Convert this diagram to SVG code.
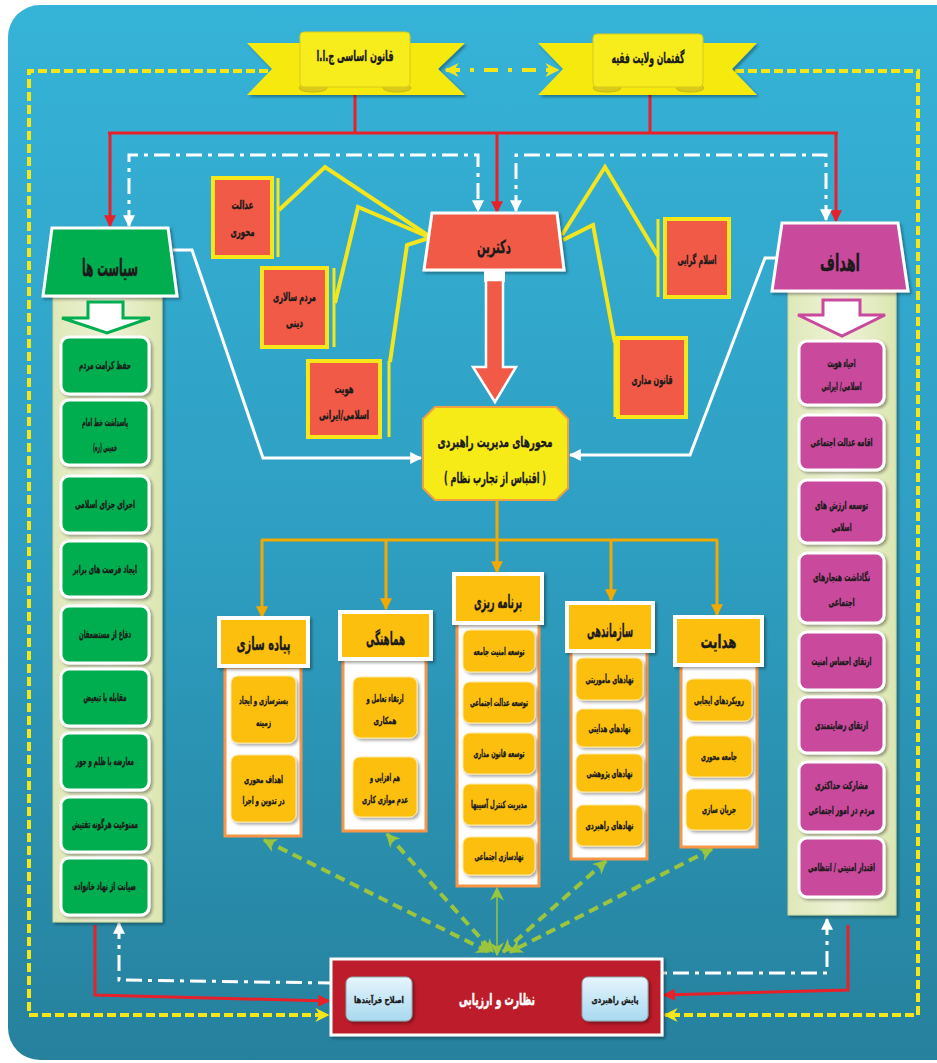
<svg xmlns="http://www.w3.org/2000/svg" width="937" height="1063" viewBox="0 0 937 1063">
<defs>
<linearGradient id="bg" x1="0" y1="0" x2="0" y2="1">
<stop offset="0" stop-color="#36b3d8"/><stop offset="0.5" stop-color="#2e9fc2"/><stop offset="1" stop-color="#26819d"/>
</linearGradient>
<linearGradient id="col" x1="0" y1="0" x2="1" y2="0">
<stop offset="0" stop-color="#dfe8b8"/><stop offset="0.5" stop-color="#eef3d8"/><stop offset="1" stop-color="#dce6b0"/>
</linearGradient>
<linearGradient id="lb" x1="0" y1="0" x2="0" y2="1">
<stop offset="0" stop-color="#e6f5fc"/><stop offset="1" stop-color="#a8d9f0"/>
</linearGradient>
<filter id="sh" x="-20%" y="-20%" width="140%" height="140%"><feDropShadow dx="2" dy="2" stdDeviation="1.5" flood-color="#000" flood-opacity="0.35"/></filter>
<marker id="mr" viewBox="0 0 10 10" refX="9" refY="5" markerWidth="12" markerHeight="12" markerUnits="userSpaceOnUse" orient="auto-start-reverse"><path d="M0,0 L10,5 L0,10 z" fill="#e8202a"/></marker>
<marker id="mw" viewBox="0 0 10 10" refX="9" refY="5" markerWidth="12" markerHeight="12" markerUnits="userSpaceOnUse" orient="auto-start-reverse"><path d="M0,0 L10,5 L0,10 z" fill="#ffffff"/></marker>
<marker id="my" viewBox="0 0 10 10" refX="9" refY="5" markerWidth="14" markerHeight="14" markerUnits="userSpaceOnUse" orient="auto-start-reverse"><path d="M0,0 L10,5 L0,10 L3,5 z" fill="#f5e61a"/></marker>
<marker id="mo" viewBox="0 0 10 10" refX="9" refY="5" markerWidth="12" markerHeight="12" markerUnits="userSpaceOnUse" orient="auto-start-reverse"><path d="M0,0 L10,5 L0,10 z" fill="#f2a900"/></marker>
<marker id="mg" viewBox="0 0 10 10" refX="9" refY="5" markerWidth="14" markerHeight="14" markerUnits="userSpaceOnUse" orient="auto-start-reverse"><path d="M0,0 L10,5 L0,10 L3,5 z" fill="#9bc53d"/></marker>
<style>
.t{font-family:"DejaVu Sans","Noto Sans",sans-serif;font-weight:bold;direction:rtl;text-anchor:middle;fill:#1a1a1a;stroke:#1a1a1a;stroke-width:0.35}
.s11{font-size:11px}.s10{font-size:10px}.s9{font-size:9px}.s12{font-size:12px}.s18{font-size:18px}
.red{stroke:#e8202a;stroke-width:3;fill:none}
.wdd{stroke:#fff;stroke-width:3;fill:none;stroke-dasharray:16 6 4 6}
.wl{stroke:#fff;stroke-width:3;fill:none}
.ydash{stroke:#f5e61a;stroke-width:4;fill:none;stroke-dasharray:9 4}
.ydd{stroke:#f5e61a;stroke-width:4;fill:none;stroke-dasharray:14 10 4 10}
.yl{stroke:#f4e51c;stroke-width:4;fill:none}
.or{stroke:#f2a900;stroke-width:3;fill:none}
.gd{stroke:#9bc53d;stroke-width:4;fill:none;stroke-dasharray:10 6}
.gi{fill:#00ad4f;stroke:#fff;stroke-width:3;filter:url(#sh)}
.pi{fill:#c94a9c;stroke:#fff;stroke-width:3;filter:url(#sh)}
.co{fill:#f15a47;stroke:#f6e61a;stroke-width:4}
.bar{stroke:#f6e61a;stroke-width:3}
.hd{fill:#fcbf10;stroke:#fff;stroke-width:4;filter:url(#sh)}
.bd{fill:#fff;stroke:#f7964a;stroke-width:3}
.it{fill:#fcbf10;stroke:#fde9a0;stroke-width:1;filter:url(#sh)}
.ban{fill:#f5e90f;filter:url(#sh)}
.curl{fill:#d8cb1a;stroke:#c8b810;stroke-width:1}
</style>
</defs>

<g id="background">
<rect x="0" y="0" width="937" height="1063" fill="#fff"/>
<rect x="8" y="5" width="960" height="1055" rx="32" fill="url(#bg)"/>
</g>

<g id="connectors">
<path class="ydash" d="M268,71 H29 V1015 H328" marker-end="url(#my)"/>
<path class="ydash" d="M735,71 H918 V1015 H665" marker-end="url(#my)"/>
<path class="ydd" d="M446,70 H558" marker-start="url(#my)" marker-end="url(#my)"/>
<path class="red" d="M355,88 V133 M650,88 V133 M108,133 H838"/>
<path class="red" d="M110,133 V226" marker-end="url(#mr)"/>
<path class="red" d="M836,133 V221" marker-end="url(#mr)"/>
<path class="red" d="M497,133 V212" marker-end="url(#mr)"/>
<path class="red" d="M95,925 V995 L329,1001" marker-end="url(#mr)"/>
<path class="red" d="M848,925 V990 L664,995" marker-end="url(#mr)"/>
<path class="wdd" d="M129,226 V155 H478 V211" marker-start="url(#mw)" marker-end="url(#mw)"/>
<path class="wdd" d="M516,211 V155 H826 V220" marker-start="url(#mw)" marker-end="url(#mw)"/>
<path class="wdd" d="M119,923 V980 L331,983" marker-start="url(#mw)"/>
<path class="wdd" d="M827,919 V973 H663" marker-start="url(#mw)"/>
<path class="wl" d="M173,250 H192 L263,458 H421" marker-end="url(#mw)"/>
<path class="wl" d="M777,258 H765 L690,455 H570" marker-end="url(#mw)"/>
<path class="yl" d="M279,210 L325,167 L429,236"/>
<path class="yl" d="M335,303 L358,207 L429,237"/>
<path class="yl" d="M390,362 L407,245 L429,238"/>
<path class="yl" d="M562,235 L605,167 L658,256"/>
<path class="yl" d="M563,240 L593,225 L615,343"/>
<path class="or" d="M497,500 V540 M261,540 H718"/>
<path class="or" d="M262,540 V617" marker-end="url(#mo)"/>
<path class="or" d="M386,540 V609" marker-end="url(#mo)"/>
<path class="or" d="M497,540 V572" marker-end="url(#mo)"/>
<path class="or" d="M611,540 V600" marker-end="url(#mo)"/>
<path class="or" d="M717,540 V615" marker-end="url(#mo)"/>
<path class="gd" d="M264,840 L489,952" marker-start="url(#mg)" marker-end="url(#mg)"/>
<path class="gd" d="M387,834 L493,952" marker-start="url(#mg)" marker-end="url(#mg)"/>
<path class="gd" d="M606,861 L503,952" marker-start="url(#mg)" marker-end="url(#mg)"/>
<path class="gd" d="M712,849 L510,952" marker-start="url(#mg)" marker-end="url(#mg)"/>
<path d="M497,888 V955" stroke="#9bc53d" stroke-width="1.5" fill="none" marker-start="url(#mg)" marker-end="url(#mg)"/>
</g>

<g id="banner-qanun">
<polygon class="ban" points="247,43 465,43 438,69 465,95 247,95 272,69"/>
<ellipse class="curl" cx="313" cy="88" rx="14" ry="4"/>
<ellipse class="curl" cx="397" cy="88" rx="14" ry="4"/>
<rect x="300" y="32" width="110" height="55" rx="4" fill="#f7ec1c" stroke="#d8cb1a" stroke-width="1"/>
<text class="t" x="355" y="61" font-size="15" textLength="77" lengthAdjust="spacingAndGlyphs">قانون اساسی ج.ا.ا</text>
</g>
<g id="banner-velayat">
<polygon class="ban" points="538,43 757,43 732,69 757,95 538,95 563,69"/>
<ellipse class="curl" cx="607" cy="88" rx="14" ry="4"/>
<ellipse class="curl" cx="690" cy="88" rx="14" ry="4"/>
<rect x="593" y="34" width="110" height="53" rx="4" fill="#f7ec1c" stroke="#d8cb1a" stroke-width="1"/>
<text class="t" x="648" y="63" font-size="15" textLength="73" lengthAdjust="spacingAndGlyphs">گفتمان ولایت فقیه</text>
</g>

<g id="siasat">
<rect x="53" y="292" width="109" height="630" fill="url(#col)" stroke="#c9d79a" stroke-width="1" filter="url(#sh)"/>
<polygon points="52,228 168,228 177,296 43,296" fill="#00ad4f" stroke="#fff" stroke-width="3" filter="url(#sh)"/>
<text class="t" x="110" y="276" font-size="24" textLength="56" lengthAdjust="spacingAndGlyphs">سیاست ها</text>
<polygon points="88,302 123,302 123,318 150,318 107,333 62,318 88,318" fill="#fff" stroke="#00ad4f" stroke-width="3"/>
<rect class="gi" x="61" y="337" width="88" height="57" rx="8"/><text class="t s11" x="105" y="369" textLength="52" lengthAdjust="spacingAndGlyphs">حفظ کرامت مردم</text>
<rect class="gi" x="61" y="400" width="88" height="65" rx="8"/><text class="t s11" x="105" y="426" textLength="46" lengthAdjust="spacingAndGlyphs">پاسداشت خط امام</text><text class="t s11" x="105" y="451" textLength="24" lengthAdjust="spacingAndGlyphs">خمینی (ره)</text>
<rect class="gi" x="61" y="476" width="88" height="57" rx="8"/><text class="t s11" x="105" y="508" textLength="60" lengthAdjust="spacingAndGlyphs">اجرای جزای اسلامی</text>
<rect class="gi" x="61" y="541" width="88" height="56" rx="8"/><text class="t s11" x="105" y="573" textLength="64" lengthAdjust="spacingAndGlyphs">ایجاد فرصت های برابر</text>
<rect class="gi" x="61" y="606" width="88" height="57" rx="8"/><text class="t s11" x="105" y="638" textLength="52" lengthAdjust="spacingAndGlyphs">دفاع از مستضعفان</text>
<rect class="gi" x="61" y="669" width="88" height="57" rx="8"/><text class="t s11" x="105" y="701" textLength="43" lengthAdjust="spacingAndGlyphs">مقابله با تبعیض</text>
<rect class="gi" x="61" y="733" width="88" height="57" rx="8"/><text class="t s11" x="105" y="765" textLength="58" lengthAdjust="spacingAndGlyphs">معارضه با ظلم و جور</text>
<rect class="gi" x="61" y="797" width="88" height="55" rx="8"/><text class="t s11" x="105" y="828" textLength="66" lengthAdjust="spacingAndGlyphs">ممنوعیت هرگونه تفتیش</text>
<rect class="gi" x="61" y="858" width="88" height="57" rx="8"/><text class="t s11" x="105" y="890" textLength="62" lengthAdjust="spacingAndGlyphs">صیانت از نهاد خانواده</text>
</g>

<g id="ahdaf">
<rect x="788" y="288" width="108" height="627" fill="url(#col)" stroke="#c9d79a" stroke-width="1" filter="url(#sh)"/>
<polygon points="782,223 898,223 908,291 772,291" fill="#c94a9c" stroke="#fff" stroke-width="3" filter="url(#sh)"/>
<text class="t" x="840" y="271" font-size="24" textLength="40" lengthAdjust="spacingAndGlyphs">اهداف</text>
<polygon points="823,300 860,300 860,315 885,315 842,336 798,315 823,315" fill="#fff" stroke="#c94a9c" stroke-width="3"/>
<rect class="pi" x="799" y="341" width="85" height="64" rx="8"/><text class="t s11" x="841.5" y="367" textLength="28" lengthAdjust="spacingAndGlyphs">احیاء هویت</text><text class="t s11" x="841.5" y="390" textLength="40" lengthAdjust="spacingAndGlyphs">اسلامی/ ایرانی</text>
<rect class="pi" x="799" y="415" width="85" height="55" rx="8"/><text class="t s11" x="841.5" y="446" textLength="62" lengthAdjust="spacingAndGlyphs">اقامه عدالت اجتماعی</text>
<rect class="pi" x="799" y="480" width="85" height="63" rx="8"/><text class="t s11" x="841.5" y="509" textLength="53" lengthAdjust="spacingAndGlyphs">توسعه ارزش های</text><text class="t s11" x="841.5" y="531" textLength="20" lengthAdjust="spacingAndGlyphs">اسلامی</text>
<rect class="pi" x="799" y="553" width="85" height="70" rx="8"/><text class="t s11" x="841.5" y="581" textLength="57" lengthAdjust="spacingAndGlyphs">نگاداشت هنجارهای</text><text class="t s11" x="841.5" y="606" textLength="26" lengthAdjust="spacingAndGlyphs">اجتماعی</text>
<rect class="pi" x="799" y="632" width="85" height="58" rx="8"/><text class="t s11" x="841.5" y="665" textLength="60" lengthAdjust="spacingAndGlyphs">ارتقای احساس امنیت</text>
<rect class="pi" x="799" y="697" width="85" height="56" rx="8"/><text class="t s11" x="841.5" y="729" textLength="53" lengthAdjust="spacingAndGlyphs">ارتقای رضایتمندی</text>
<rect class="pi" x="799" y="762" width="85" height="70" rx="8"/><text class="t s11" x="841.5" y="789" textLength="53" lengthAdjust="spacingAndGlyphs">مشارکت حداکثری</text><text class="t s11" x="841.5" y="814" textLength="66" lengthAdjust="spacingAndGlyphs">مردم در امور اجتماعی</text>
<rect class="pi" x="799" y="838" width="85" height="59" rx="8"/><text class="t s11" x="841.5" y="871" textLength="67" lengthAdjust="spacingAndGlyphs">اقتدار امنیتی / انتظامی</text>
</g>

<g id="doctrine">
<polygon points="432,213 557,213 564,270 424,270" fill="#f15a47" stroke="#fff" stroke-width="3" filter="url(#sh)"/>
<text class="t" x="494" y="253" font-size="18" textLength="34" lengthAdjust="spacingAndGlyphs">دکترین</text>
<rect x="484" y="270" width="21" height="12" fill="#fff"/>
<polygon points="486,280 503,280 503,367 516,367 495,402 473,367 486,367" fill="#f15a47" stroke="#fff" stroke-width="2.5"/>
</g>

<g id="edalat">
<rect class="co" x="213" y="178" width="59" height="79"/>
<line class="bar" x1="278" y1="178" x2="278" y2="257"/>
<text class="t s12" x="242.5" y="209" textLength="22" lengthAdjust="spacingAndGlyphs">عدالت</text><text class="t s12" x="242.5" y="236" textLength="24" lengthAdjust="spacingAndGlyphs">محوری</text>
</g>
<g id="mardomsalari">
<rect class="co" x="262" y="268" width="65" height="79"/>
<line class="bar" x1="334" y1="268" x2="334" y2="347"/>
<text class="t s12" x="294.5" y="301" textLength="43" lengthAdjust="spacingAndGlyphs">مردم سالاری</text><text class="t s12" x="294.5" y="327" textLength="17" lengthAdjust="spacingAndGlyphs">دینی</text>
</g>
<g id="hoviat">
<rect class="co" x="308" y="361" width="72" height="76"/>
<line class="bar" x1="389" y1="361" x2="389" y2="437"/>
<text class="t s12" x="344" y="393" textLength="19" lengthAdjust="spacingAndGlyphs">هویت</text><text class="t s12" x="344" y="419" textLength="50" lengthAdjust="spacingAndGlyphs">اسلامی/ایرانی</text>
</g>
<g id="eslamgarai">
<rect class="co" x="665" y="219" width="64" height="78"/>
<line class="bar" x1="658" y1="219" x2="658" y2="297"/>
<text class="t s12" x="697" y="264" textLength="39" lengthAdjust="spacingAndGlyphs">اسلام گرایی</text>
</g>
<g id="qanunmadari">
<rect class="co" x="618" y="338" width="68" height="79"/>
<line class="bar" x1="615" y1="338" x2="615" y2="417"/>
<text class="t s12" x="652" y="384" textLength="41" lengthAdjust="spacingAndGlyphs">قانون مداری</text>
</g>

<g id="mehvarha">
<polygon points="435,407 556,407 568,419 568,488 556,500 435,500 423,488 423,419" fill="#f6eb16" stroke="#f0a040" stroke-width="2"/>
<text class="t" x="495" y="447" font-size="15" textLength="115" lengthAdjust="spacingAndGlyphs">محورهای  مدیریت راهبردی</text>
<text class="t" x="495" y="483" font-size="15" textLength="102" lengthAdjust="spacingAndGlyphs">( اقتباس از تجارب نظام )</text>
</g>

<g id="padesazi">
<rect class="bd" x="225" y="667" width="76" height="169"/>
<rect class="hd" x="219" y="618" width="89" height="48"/>
<text class="t s18" x="263.5" y="650" textLength="54" lengthAdjust="spacingAndGlyphs">پیاده سازی</text>
<rect class="it" x="231" y="676" width="65" height="67" rx="7"/><text class="t s10" x="263.5" y="704" textLength="49" lengthAdjust="spacingAndGlyphs">بسترسازی و ایجاد</text><text class="t s10" x="263.5" y="726" textLength="15" lengthAdjust="spacingAndGlyphs">زمینه</text>
<rect class="it" x="231" y="755" width="65" height="67" rx="7"/><text class="t s10" x="263.5" y="783" textLength="39" lengthAdjust="spacingAndGlyphs">اهداف محوری</text><text class="t s10" x="263.5" y="804" textLength="42" lengthAdjust="spacingAndGlyphs">در تدوین و اجرا</text>
</g>

<g id="hamahangi">
<rect class="bd" x="343" y="659" width="83" height="172"/>
<rect class="hd" x="340" y="612" width="91" height="47"/>
<text class="t s18" x="385.5" y="645" textLength="39" lengthAdjust="spacingAndGlyphs">هماهنگی</text>
<rect class="it" x="353" y="677" width="64" height="61" rx="7"/><text class="t s10" x="385" y="702" textLength="37" lengthAdjust="spacingAndGlyphs">ارتقاء تعامل و</text><text class="t s10" x="385" y="724" textLength="23" lengthAdjust="spacingAndGlyphs">همکاری</text>
<rect class="it" x="353" y="757" width="64" height="60" rx="7"/><text class="t s10" x="385" y="781" textLength="30" lengthAdjust="spacingAndGlyphs">هم افزایی و</text><text class="t s10" x="385" y="803" textLength="46" lengthAdjust="spacingAndGlyphs">عدم موازی کاری</text>
</g>

<g id="barnamerizi">
<rect class="bd" x="457" y="623" width="82" height="263"/>
<rect class="hd" x="454" y="574" width="88" height="49"/>
<text class="t s18" x="498" y="608" textLength="48" lengthAdjust="spacingAndGlyphs">برنامه ریزی</text>
<rect class="it" x="463" y="630" width="72" height="42" rx="7"/><text class="t s10" x="499" y="655" textLength="51" lengthAdjust="spacingAndGlyphs">توسعه امنیت جامعه</text>
<rect class="it" x="463" y="682" width="72" height="41" rx="7"/><text class="t s10" x="499" y="706" textLength="58" lengthAdjust="spacingAndGlyphs">توسعه عدالت اجتماعی</text>
<rect class="it" x="463" y="733" width="72" height="41" rx="7"/><text class="t s10" x="499" y="757" textLength="51" lengthAdjust="spacingAndGlyphs">توسعه قانون مداری</text>
<rect class="it" x="463" y="784" width="72" height="41" rx="7"/><text class="t s10" x="499" y="808" textLength="56" lengthAdjust="spacingAndGlyphs">مدیریت کنترل آسیبها</text>
<rect class="it" x="463" y="837" width="72" height="38" rx="7"/><text class="t s10" x="499" y="860" textLength="49" lengthAdjust="spacingAndGlyphs">نهادسازی اجتماعی</text>
</g>

<g id="sazmandehi">
<rect class="bd" x="571" y="651" width="76" height="208"/>
<rect class="hd" x="567" y="603" width="86" height="48"/>
<text class="t s18" x="610" y="637" textLength="46" lengthAdjust="spacingAndGlyphs">سازماندهی</text>
<rect class="it" x="576" y="658" width="67" height="42" rx="7"/><text class="t s10" x="609.5" y="683" textLength="48" lengthAdjust="spacingAndGlyphs">نهادهای مأموریتی</text>
<rect class="it" x="576" y="709" width="67" height="38" rx="7"/><text class="t s10" x="609.5" y="732" textLength="42" lengthAdjust="spacingAndGlyphs">نهادهای هدایتی</text>
<rect class="it" x="576" y="754" width="67" height="38" rx="7"/><text class="t s10" x="609.5" y="777" textLength="46" lengthAdjust="spacingAndGlyphs">نهادهای پژوهشی</text>
<rect class="it" x="576" y="805" width="67" height="41" rx="7"/><text class="t s10" x="609.5" y="829" textLength="48" lengthAdjust="spacingAndGlyphs">نهادهای راهبردی</text>
</g>

<g id="hedayat">
<rect class="bd" x="681" y="665" width="76" height="182"/>
<rect class="hd" x="675" y="617" width="87" height="48"/>
<text class="t s18" x="718.5" y="648" textLength="36" lengthAdjust="spacingAndGlyphs">هدایت</text>
<rect class="it" x="686" y="679" width="66" height="42" rx="7"/><text class="t s10" x="719" y="704" textLength="50" lengthAdjust="spacingAndGlyphs">رویکردهای ایجابی</text>
<rect class="it" x="686" y="736" width="66" height="41" rx="7"/><text class="t s10" x="719" y="760" textLength="36" lengthAdjust="spacingAndGlyphs">جامعه محوری</text>
<rect class="it" x="686" y="789" width="66" height="41" rx="7"/><text class="t s10" x="719" y="813" textLength="34" lengthAdjust="spacingAndGlyphs">جریان سازی</text>
</g>

<g id="nezarat">
<rect x="331" y="959" width="331" height="76" fill="#bd1e2c" stroke="#fff" stroke-width="3" filter="url(#sh)"/>
<text class="t" x="497" y="1005" font-size="16" textLength="76" lengthAdjust="spacingAndGlyphs" style="fill:#fff;stroke:#fff;stroke-width:0.5">نظارت و ارزیابی</text>
<rect x="346" y="977" width="66" height="44" rx="6" fill="url(#lb)" stroke="#8aa" stroke-width="1" filter="url(#sh)"/>
<text class="t s9" x="379" y="1003" textLength="50" lengthAdjust="spacingAndGlyphs">اصلاح فرآیندها</text>
<rect x="582" y="977" width="66" height="44" rx="6" fill="url(#lb)" stroke="#8aa" stroke-width="1" filter="url(#sh)"/>
<text class="t s9" x="615" y="1003" textLength="47" lengthAdjust="spacingAndGlyphs">پایش راهبردی</text>
</g>
</svg>
